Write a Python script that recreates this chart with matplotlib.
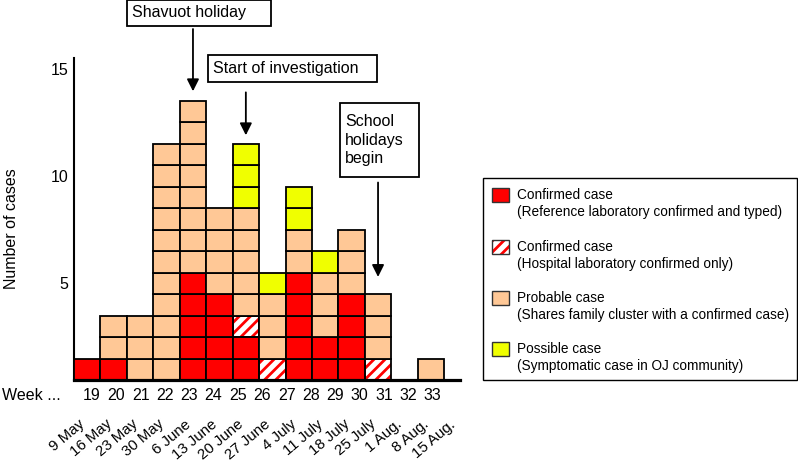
import numpy as np
import matplotlib
matplotlib.use("Agg")
import matplotlib.pyplot as plt
from matplotlib.patches import Rectangle
from matplotlib.transforms import blended_transform_factory

plt.rcParams['font.family'] = ['Liberation Sans', 'DejaVu Sans']
plt.rcParams['hatch.linewidth'] = 2.0

# ---- data (cases per column, stacked bottom-up in this order) ----
confirmed = [1, 1, 0, 0, 5, 4, 2, 0, 5, 2, 4, 0, 0, 0]
hospital_confirmed = [0, 0, 0, 0, 0, 0, 1, 1, 0, 0, 0, 1, 0, 0]
probable = [0, 2, 3, 11, 8, 4, 5, 3, 2, 3, 3, 3, 0, 1]
possible = [0, 0, 0, 0, 0, 0, 3, 1, 2, 1, 0, 0, 0, 0]

week_labels = ['19', '20', '21', '22', '23', '24', '25', '26', '27', '28',
               '29', '30', '31', '32', '33']
date_labels = ['9 May', '16 May', '23 May', '30 May', '6 June', '13 June',
               '20 June', '27 June', '4 July', '11 July', '18 July', '25 July',
               '1 Aug.', '8 Aug.', '15 Aug.']
y_tick_labels = ['5', '10', '15']

events = [("Shavuot holiday", 4), ("Start of investigation", 6),
          ("School\nholidays\nbegin", 11)]

legend_items = [
    ("Confirmed case", "(Reference laboratory confirmed and typed)"),
    ("Confirmed case", "(Hospital laboratory confirmed only)"),
    ("Probable case", "(Shares family cluster with a confirmed case)"),
    ("Possible case", "(Symptomatic case in OJ community)"),
]

# ---- styles ----
RED = '#FF0000'
PEACH = '#FFC896'
YELLOW = '#F0FF00'
EDGE_LW = 1.3

W, H = 798, 467
fig = plt.figure(figsize=(W / 100, H / 100), dpi=100)


def fx(px):
    return px / W


def fy(py):
    return 1 - py / H


ax = fig.add_axes([fx(74), fy(380), fx(460) - fx(74), fy(58) - fy(380)])
ax.set_xlim(-0.5, 14.1)
ax.set_ylim(0, 15)
for s in ['top', 'right']:
    ax.spines[s].set_visible(False)
ax.spines['left'].set_linewidth(1.5)
ax.spines['bottom'].set_linewidth(2.3)
ax.spines['bottom'].set_zorder(5)

series = [(confirmed, 'solid_red'), (hospital_confirmed, 'hatch'),
          (probable, 'peach'), (possible, 'yellow')]
n = len(confirmed)
for i in range(n):
    bottom = 0
    for vals, kind in series:
        for _ in range(vals[i]):
            if kind == 'hatch':
                ax.bar(i, 1, bottom=bottom, width=1, color='white',
                       edgecolor=RED, hatch='///', linewidth=0, zorder=2)
                ax.bar(i, 1, bottom=bottom, width=1, fill=False,
                       edgecolor='black', linewidth=EDGE_LW, zorder=3)
            else:
                fc = {'solid_red': RED, 'peach': PEACH, 'yellow': YELLOW}[kind]
                ax.bar(i, 1, bottom=bottom, width=1, color=fc,
                       edgecolor='black', linewidth=EDGE_LW, zorder=3)
            bottom += 1

# y ticks (labels centred on cells)
ax.set_yticks([int(t) - 0.5 for t in y_tick_labels])
ax.set_yticklabels(y_tick_labels, fontsize=11.5)
ax.tick_params(axis='y', length=0, pad=4)
fig.text(fx(12), fy(229), 'Number of cases', fontsize=11.5, rotation=90,
         ha='center', va='center')

# week labels
ax.set_xticks(np.linspace(0.18, 13.06, len(week_labels)))
ax.set_xticklabels(week_labels, fontsize=11.5)
ax.tick_params(axis='x', length=0, pad=6)
fig.text(fx(2), fy(395), 'Week ...', fontsize=11.5, va='center', ha='left')

# date labels (rotated)
trans = blended_transform_factory(ax.transData, ax.transAxes)
for i, d in enumerate(date_labels):
    ax.text(i - 0.15, -0.132, d, transform=trans, rotation=40,
            rotation_mode='anchor', ha='right', va='center', fontsize=10.8,
            clip_on=False)

# event boxes and arrows
boxes = [(127, 0, 271, 26), (208, 55, 377, 82), (340, 103, 419, 177)]
arrow_y = [(16.35, 13.45), (13.4, 11.4), (9.2, 4.8)]
for (label, col), (x0, y0, x1, y1), (ys, ye) in zip(events, boxes, arrow_y):
    fig.add_artist(Rectangle((fx(x0), fy(y1)), fx(x1) - fx(x0), fy(y0) - fy(y1),
                             transform=fig.transFigure, fill=False,
                             edgecolor='black', linewidth=1.3))
    fig.text(fx(x0 + 5), fy((y0 + y1) / 2), label, fontsize=11.5,
             ha='left', va='center', linespacing=1.3)
    ax.annotate('', xy=(col, ye), xytext=(col, ys),
                arrowprops=dict(arrowstyle='-|>', color='black', lw=1.3,
                                mutation_scale=18, shrinkA=0, shrinkB=0),
                annotation_clip=False)

# legend (drawn manually)
fig.add_artist(Rectangle((fx(483), fy(380)), fx(797) - fx(483), fy(178) - fy(380),
                         transform=fig.transFigure, fill=False,
                         edgecolor='black', linewidth=1.0))
legend_y = [195, 247, 298, 349]
kinds = ['solid_red', 'hatch', 'peach', 'yellow']
for (t1, t2), yc, kind in zip(legend_items, legend_y, kinds):
    px0, py0, pw, ph = 492, yc - 7, 17, 14
    if kind == 'hatch':
        fig.add_artist(Rectangle((fx(px0), fy(py0 + ph)), pw / W, ph / H,
                                 transform=fig.transFigure, facecolor='white',
                                 edgecolor=RED, hatch='///', linewidth=0))
        fig.add_artist(Rectangle((fx(px0), fy(py0 + ph)), pw / W, ph / H,
                                 transform=fig.transFigure, fill=False,
                                 edgecolor='#333333', linewidth=1.0))
    else:
        fc = {'solid_red': RED, 'peach': PEACH, 'yellow': YELLOW}[kind]
        fig.add_artist(Rectangle((fx(px0), fy(py0 + ph)), pw / W, ph / H,
                                 transform=fig.transFigure, facecolor=fc,
                                 edgecolor='#333333', linewidth=1.0))
    fig.text(fx(517), fy(yc), t1, fontsize=9.8, ha='left', va='center')
    fig.text(fx(517), fy(yc + 17), t2, fontsize=9.8, ha='left', va='center')

fig.savefig('out.png', dpi=100)
